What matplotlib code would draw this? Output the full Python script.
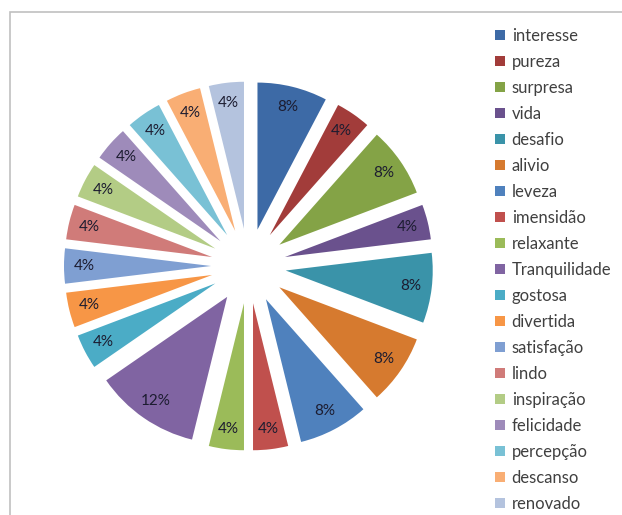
import matplotlib.pyplot as plt
from matplotlib.patches import Rectangle

# Dados (contagens; percentuais calculados pela pizza)
categorias = ['interesse', 'pureza', 'surpresa', 'vida', 'desafio', 'alivio',
              'leveza', 'imensidão', 'relaxante', 'Tranquilidade', 'gostosa',
              'divertida', 'satisfação', 'lindo', 'inspiração', 'felicidade',
              'percepção', 'descanso', 'renovado']
contagens = [2, 1, 2, 1, 2, 2, 2, 1, 1, 3, 1, 1, 1, 1, 1, 1, 1, 1, 1]
cores = ['#3d6aa6', '#a23c3a', '#84a346', '#6a518d', '#3a93a9', '#d67a2f',
         '#4f81bd', '#c0504d', '#9bbb59', '#8064a2', '#4bacc6', '#f79646',
         '#7f9fd2', '#d07b79', '#b3cc85', '#9e8bba', '#79c1d5', '#f9ae74',
         '#b4c3de']

plt.rcParams['font.family'] = ['Lato', 'DejaVu Sans']

fig = plt.figure(figsize=(6.22, 5.15), dpi=100)
ax = fig.add_axes([0, 0, 1, 1])

wedges, _, autotexts = ax.pie(contagens, colors=cores, startangle=90,
                              counterclock=False, radius=0.98,
                              explode=[0.25] * len(contagens),
                              autopct='%.0f%%', pctdistance=0.86,
                              textprops={'fontsize': 11, 'color': '#1c1c30'})

# pixel mapping: centre (248.5, 266), 1 unit = 150 px
escala = 150.0
cx, cy = 248.5, 266
ax.set_aspect('auto')
ax.set_xlim(-cx / escala, (622 - cx) / escala)
ax.set_ylim(-(515 - cy) / escala, cy / escala)
ax.axis('off')

# moldura do gráfico
moldura = Rectangle((10 / 622, -0.5), 1.2, 1 + 0.5 - 12 / 515,
                    transform=fig.transFigure, fill=False,
                    edgecolor='#c0c0c0', linewidth=1.2)
fig.patches.append(moldura)

leg = fig.legend(wedges, categorias, loc='upper left',
                 bbox_to_anchor=(495 / 622, 1 - 28 / 515),
                 frameon=False, fontsize=12, handlelength=0.6,
                 handleheight=0.6, handletextpad=0.4, labelspacing=0.60,
                 borderaxespad=0, borderpad=0)
for t in leg.get_texts():
    t.set_color('#404040')

fig.savefig('out.png', dpi=100)
